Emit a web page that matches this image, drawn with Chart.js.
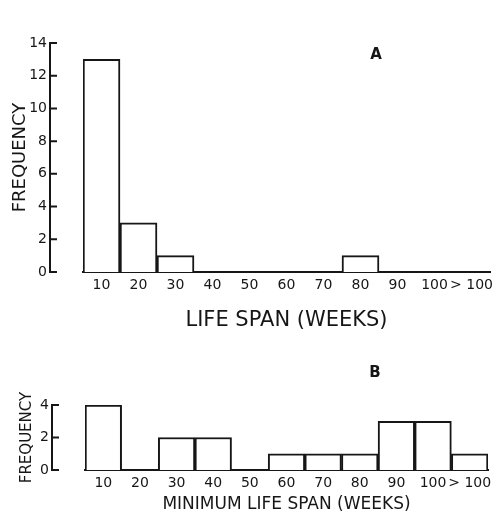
<!DOCTYPE html>
<html>
<head>
<meta charset="utf-8">
<script src="https://cdn.jsdelivr.net/npm/chart.js@4/dist/chart.umd.min.js"></script>
<style>
  html, body { margin: 0; padding: 0; background: #fff; }
  #wrapA { position: absolute; left: 0; top: 0; width: 503px; height: 340px; }
  #wrapB { position: absolute; left: 0; top: 360px; width: 503px; height: 163px; }
</style>
</head>
<body>
<div id="wrapA"><canvas id="chartA"></canvas></div>
<div id="wrapB"><canvas id="chartB"></canvas></div>
<script>
// life span classes (weeks)
const categories = ["10", "20", "30", "40", "50", "60", "70", "80", "90", "100", "> 100"];
// panel A: life span
const lifeSpanFreq = [13, 3, 1, 0, 0, 0, 0, 1, 0, 0, 0];
// panel B: minimum life span
const minLifeSpanFreq = [4, 0, 2, 2, 0, 1, 1, 1, 3, 3, 1];
const yMaxA = 14;
const yMaxB = 4;
const yStep = 2;

const INK = "#161616";
const FONT = "'DejaVu Sans', sans-serif";

// y axis drawn a little left of the first bar, ticks pointing inwards
const sideAxis = {
    id: "sideAxis",
    afterDraw(chart, args, opts) {
        const ctx = chart.ctx;
        const y = chart.scales.y;
        const area = chart.chartArea;
        const x0 = area.left - opts.gap;
        ctx.save();
        ctx.strokeStyle = INK;
        ctx.lineWidth = 2;
        ctx.beginPath();
        ctx.moveTo(x0, y.getPixelForValue(y.max) - 1);
        ctx.lineTo(x0, y.getPixelForValue(0) + 1);
        y.ticks.forEach(function (t) {
            const py = y.getPixelForValue(t.value);
            ctx.moveTo(x0, py);
            ctx.lineTo(x0 + 7, py);
        });
        ctx.stroke();
        ctx.fillStyle = INK;
        ctx.font = "bold 15px " + FONT;
        ctx.textAlign = "center";
        ctx.textBaseline = "middle";
        ctx.fillText(opts.label, opts.lx, opts.ly);
        ctx.restore();
    }
};

function makeChart(id, values, yMax, o) {
    const canvas = document.getElementById(id);
    if (!canvas) {
        console.error("no canvas " + id);
        return;
    }
    return new Chart(canvas.getContext("2d"), {
        type: "bar",
        data: {
            labels: categories,
            datasets: [{
                data: values,
                backgroundColor: "#fff",
                borderColor: INK,
                borderWidth: 2,
                borderSkipped: "start",
                barPercentage: 1,
                categoryPercentage: 1
            }]
        },
        options: {
            responsive: true,
            maintainAspectRatio: false,
            animation: false,
            layout: { padding: o.padding },
            plugins: {
                legend: { display: false },
                tooltip: { enabled: false },
                sideAxis: { gap: 33, label: o.panel, lx: o.lx, ly: o.ly }
            },
            scales: {
                x: {
                    grid: { display: false, drawTicks: false },
                    border: { display: true, color: INK, width: 2 },
                    ticks: {
                        color: INK,
                        autoSkip: false,
                        maxRotation: 0,
                        padding: o.xTickPad,
                        font: { family: FONT, size: o.xTickSize, lineHeight: 1 }
                    },
                    title: {
                        display: true,
                        text: o.xTitle,
                        color: INK,
                        padding: { top: o.xTitlePad, bottom: 0 },
                        font: { family: FONT, size: o.xTitleSize, lineHeight: 1 }
                    }
                },
                y: {
                    min: 0,
                    max: yMax,
                    grid: { display: false, drawTicks: false },
                    border: { display: false },
                    afterFit: function (scale) { scale.width = o.yWidth; },
                    ticks: {
                        stepSize: yStep,
                        color: INK,
                        padding: 36,
                        font: { family: FONT, size: 14, lineHeight: 1 }
                    },
                    title: {
                        display: true,
                        text: "FREQUENCY",
                        color: INK,
                        padding: { top: 0, bottom: 0 },
                        font: { family: FONT, size: o.yTitleSize, lineHeight: 1 }
                    }
                }
            }
        },
        plugins: [sideAxis]
    });
}

makeChart("chartA", lifeSpanFreq, yMaxA, {
    padding: { left: 11, right: 13, top: 18, bottom: 9 },
    panel: "A", lx: 376, ly: 55,
    xTitle: "LIFE SPAN (WEEKS)", xTitleSize: 21, xTitlePad: 12,
    xTickSize: 14, xTickPad: 6,
    yWidth: 72, yTitleSize: 18
});

makeChart("chartB", minLifeSpanFreq, yMaxB, {
    padding: { left: 20, right: 15, top: 45, bottom: 10 },
    panel: "B", lx: 375, ly: 13,
    xTitle: "MINIMUM LIFE SPAN (WEEKS)", xTitleSize: 17, xTitlePad: 0,
    xTickSize: 14, xTickPad: 6,
    yWidth: 65, yTitleSize: 15
});
</script>
</body>
</html>
